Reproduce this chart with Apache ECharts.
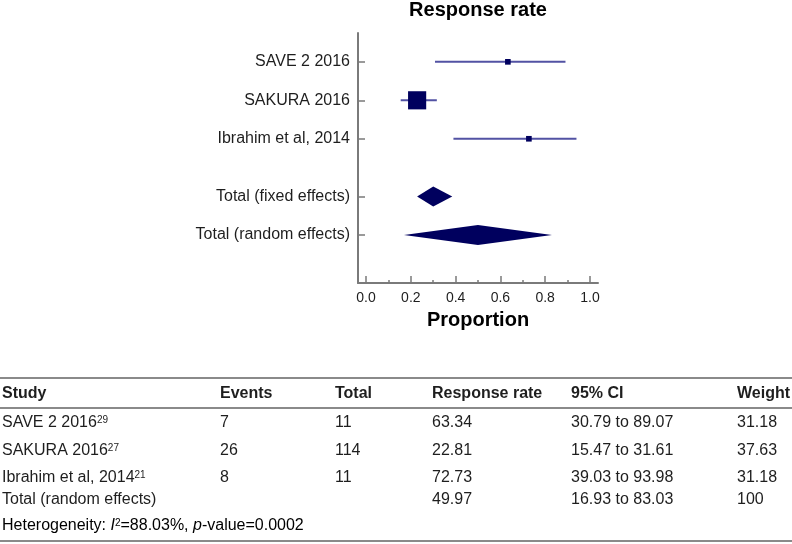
<!DOCTYPE html>
<html>
<head>
<meta charset="utf-8">
<script src="https://cdn.jsdelivr.net/npm/echarts@6/dist/echarts.min.js"></script>
<style>
  html, body { margin: 0; padding: 0; background: #ffffff; }
  #chart { width: 792px; height: 544px; }
</style>
</head>
<body>
<div id="chart"></div>
<script>
// ---- Data ----
const studies = ['SAVE 2 2016', 'SAKURA 2016', 'Ibrahim et al, 2014'];
const refs = ['29', '27', '21'];
const events = [7, 26, 8];
const totals = [11, 114, 11];
const rates = [63.34, 22.81, 72.73];
const ciLow = [30.79, 15.47, 39.03];
const ciHigh = [89.07, 31.61, 93.98];
const weights = [31.18, 37.63, 31.18];

const pooledLabels = ['Total (fixed effects)', 'Total (random effects)'];
const pooledRate = [30.0, 49.97];      // fixed
const pooledLow = [22.8, 16.93];
const pooledHigh = [38.5, 83.03];

const randomTotal = { label: 'Total (random effects)', rate: 49.97, low: 16.93, high: 83.03, weight: 100 };
const heterogeneity = { i2: '88.03%', p: '0.0002' };

const headers = ['Study', 'Events', 'Total', 'Response rate', '95% CI', 'Weight'];
const xTicks = [0, 0.2, 0.4, 0.6, 0.8, 1.0];
const xMinorTicks = [0.1, 0.3, 0.5, 0.7, 0.9];

// row positions on y value axis
const studyRows = [1, 2, 3];
const pooledRows = [4.5, 5.5];
const rowLabels = {};
studyRows.forEach((r, i) => rowLabels[r] = studies[i]);
pooledRows.forEach((r, i) => rowLabels[r] = pooledLabels[i]);
const yTicks = studyRows.concat(pooledRows);

const FONT = 'Liberation Sans, Arial, Helvetica, sans-serif';
const TXT = '#1e1e1e';
const AXIS = '#7a7a7a';
const NAVY = '#00005e';
const CI_COLOR = '#5252a3';

const chart = echarts.init(document.getElementById('chart'), null, { renderer: 'canvas' });

const ciData = studies.map((s, i) => [ciLow[i] / 100, ciHigh[i] / 100, studyRows[i]]);
const pointData = studies.map((s, i) => [rates[i] / 100, studyRows[i], totals[i]]);
const diamondData = pooledLabels.map((s, i) => [pooledLow[i] / 100, pooledRate[i] / 100, pooledHigh[i] / 100, pooledRows[i]]);

// ---- Table as graphic text ----
const colX = [2, 220, 335, 432, 571, 737];
const headerY = 394;
const rowY = [423, 451, 478];
const totalY = 500;
const hetY = 526;
const graphics = [];

function txt(x, y, text, extra) {
  graphics.push({
    type: 'text', x: x, y: y,
    style: Object.assign({ text: text, font: '16px ' + FONT, fill: TXT, textVerticalAlign: 'middle', textAlign: 'left' }, extra || {})
  });
}

graphics.push({ type: 'text', x: 478, y: 10, style: { text: 'Response rate', font: 'bold 20px ' + FONT, fill: '#000', textAlign: 'center', textVerticalAlign: 'middle' } });

headers.forEach((h, i) => txt(colX[i], headerY, h, { font: 'bold 16px ' + FONT }));
studies.forEach((s, i) => {
  graphics.push({
    type: 'text', x: colX[0], y: rowY[i],
    style: {
      text: '{m|' + s + '}{s|' + refs[i] + '}',
      fill: TXT, textVerticalAlign: 'middle', textAlign: 'left',
      rich: {
        m: { fontSize: 16, fontFamily: FONT, fill: TXT, color: TXT },
        s: { fontSize: 10, fontFamily: FONT, fill: TXT, color: TXT, verticalAlign: 'top' }
      }
    }
  });
  txt(colX[1], rowY[i], String(events[i]));
  txt(colX[2], rowY[i], String(totals[i]));
  txt(colX[3], rowY[i], rates[i].toFixed(2));
  txt(colX[4], rowY[i], ciLow[i].toFixed(2) + ' to ' + ciHigh[i].toFixed(2));
  txt(colX[5], rowY[i], weights[i].toFixed(2));
});
txt(colX[0], totalY, randomTotal.label);
txt(colX[3], totalY, randomTotal.rate.toFixed(2));
txt(colX[4], totalY, randomTotal.low.toFixed(2) + ' to ' + randomTotal.high.toFixed(2));
txt(colX[5], totalY, String(randomTotal.weight));
graphics.push({
  type: 'text', x: colX[0], y: hetY,
  style: {
    text: '{n|Heterogeneity: }{i|I}{s|2}{n|=' + heterogeneity.i2 + ', }{i|p}{n|-value=' + heterogeneity.p + '}',
    textVerticalAlign: 'middle', textAlign: 'left',
    rich: {
      n: { fontSize: 16, fontFamily: FONT, color: TXT },
      i: { fontSize: 16, fontFamily: FONT, color: TXT, fontStyle: 'italic' },
      s: { fontSize: 10, fontFamily: FONT, color: TXT, verticalAlign: 'top' }
    }
  }
});
[378, 408, 541].forEach(y => {
  graphics.push({ type: 'line', shape: { x1: 0, y1: y, x2: 792, y2: y }, style: { stroke: '#8a8a8a', lineWidth: 2 } });
});

const option = {
  backgroundColor: '#ffffff',
  animation: false,
  textStyle: { fontFamily: FONT },
  grid: { left: 358, top: 33, width: 240, height: 250, containLabel: false },
  xAxis: [{
    type: 'value', min: -0.036, max: 1.036,
    axisLine: { show: true, onZero: false, lineStyle: { color: AXIS, width: 2 } },
    axisTick: { show: true, inside: true, length: 7, customValues: xTicks, lineStyle: { color: AXIS, width: 1.5 } },
    axisLabel: { show: true, customValues: xTicks, formatter: v => v.toFixed(1), fontSize: 14, color: TXT, margin: 8, fontFamily: FONT },
    splitLine: { show: false },
    name: 'Proportion', nameLocation: 'middle', nameGap: 27,
    nameTextStyle: { fontSize: 20, fontWeight: 'bold', color: '#000', fontFamily: FONT }
  }, {
    type: 'value', min: -0.036, max: 1.036, position: 'bottom',
    axisLine: { show: false, onZero: false },
    axisTick: { show: true, inside: true, length: 3, customValues: xMinorTicks, lineStyle: { color: AXIS, width: 1.5 } },
    axisLabel: { show: false },
    splitLine: { show: false }
  }],
  yAxis: {
    type: 'value', inverse: true, min: 0.25, max: 6.75, position: 'left',
    axisLine: { show: true, onZero: false, lineStyle: { color: AXIS, width: 2 } },
    axisTick: { show: true, inside: true, length: 7, customValues: yTicks, lineStyle: { color: AXIS, width: 1.5 } },
    axisLabel: { show: true, customValues: yTicks, formatter: v => rowLabels[v] || '', fontSize: 16, color: TXT, margin: 8, fontFamily: FONT },
    splitLine: { show: false }
  },
  series: [{
    type: 'custom',
    xAxisIndex: 0, yAxisIndex: 0,
    data: ciData,
    encode: { x: [0, 1], y: 2 },
    renderItem: function (params, api) {
      const y = api.value(2);
      const p1 = api.coord([api.value(0), y]);
      const p2 = api.coord([api.value(1), y]);
      return { type: 'line', shape: { x1: p1[0], y1: p1[1], x2: p2[0], y2: p2[1] }, style: { stroke: CI_COLOR, lineWidth: 2 } };
    },
    z: 2
  }, {
    type: 'scatter',
    xAxisIndex: 0, yAxisIndex: 0,
    data: pointData,
    symbol: 'rect',
    symbolSize: d => 1.7 * Math.sqrt(d[2]),
    itemStyle: { color: NAVY, opacity: 1 },
    z: 3
  }, {
    type: 'custom',
    xAxisIndex: 0, yAxisIndex: 0,
    data: diamondData,
    encode: { x: [0, 1, 2], y: 3 },
    renderItem: function (params, api) {
      const y = api.value(3);
      const l = api.coord([api.value(0), y]);
      const c = api.coord([api.value(1), y]);
      const r = api.coord([api.value(2), y]);
      const h = 10;
      return {
        type: 'polygon',
        shape: { points: [[l[0], l[1]], [c[0], c[1] - h], [r[0], r[1]], [c[0], c[1] + h]] },
        style: { fill: NAVY }
      };
    },
    z: 3
  }],
  graphic: graphics
};

chart.setOption(option);
</script>
</body>
</html>
